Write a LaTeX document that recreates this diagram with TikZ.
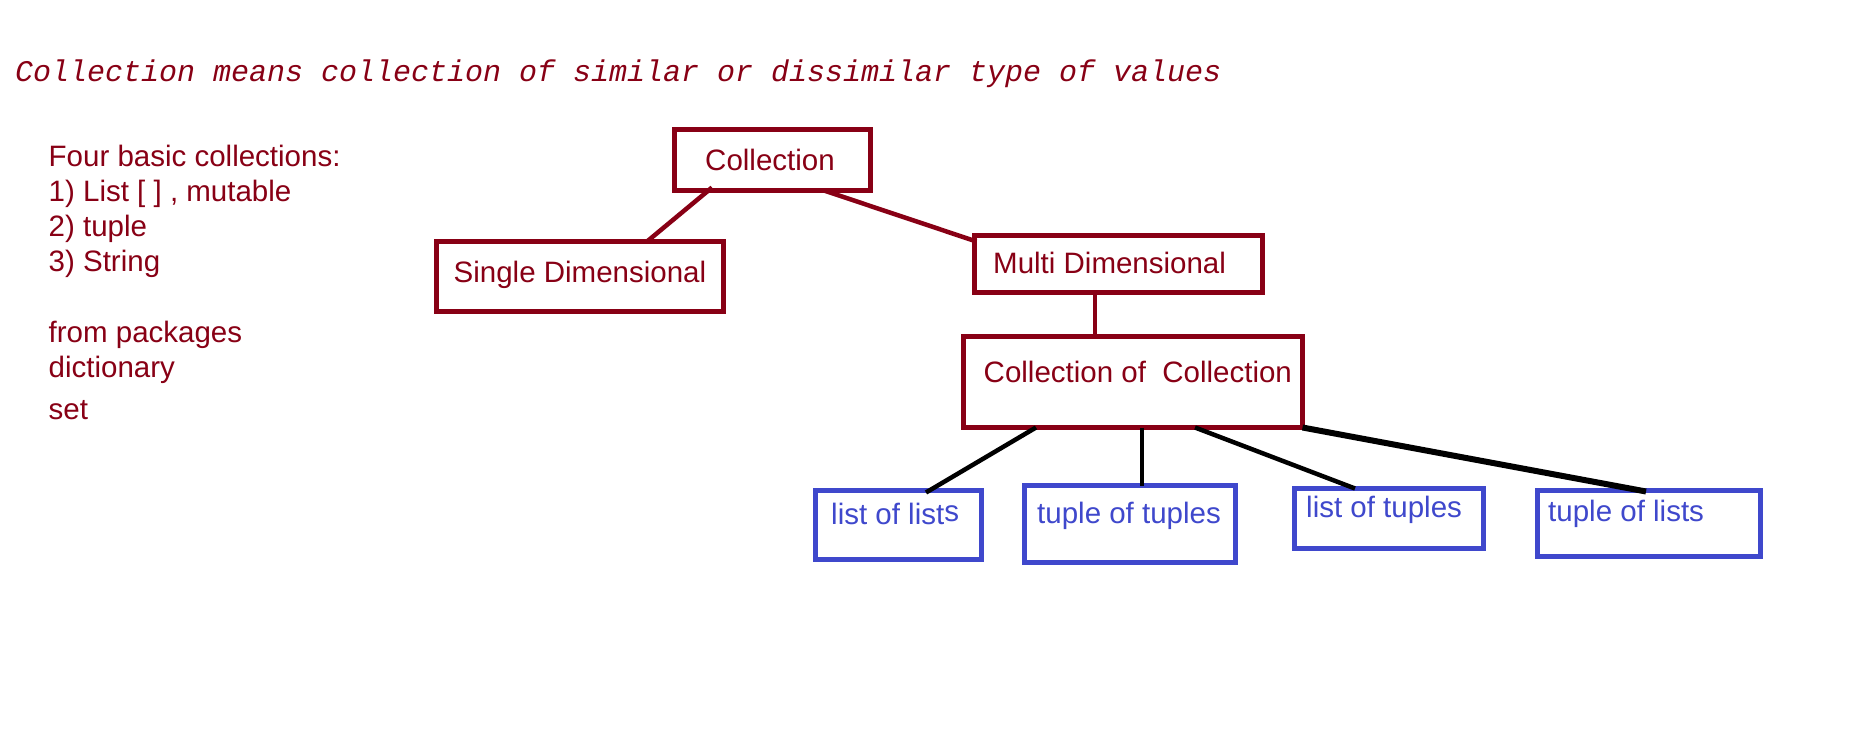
\documentclass[tikz,border=0pt]{standalone}
\usepackage{fontspec}
\setmainfont{Liberation Sans}
\newfontfamily\hdrfont{Liberation Mono}
\usetikzlibrary{calc}
\definecolor{dred}{RGB}{136,0,21}
\definecolor{pblue}{RGB}{63,72,204}
\begin{document}
\begin{tikzpicture}[x=1pt,y=-1pt,
  redbox/.style={draw=dred,line width=5pt,rectangle,inner sep=0pt,outer sep=0pt},
  bluebox/.style={draw=pblue,line width=5pt,rectangle,inner sep=0pt,outer sep=0pt},
  boxtext/.style={anchor=base west,inner sep=0pt,font=\fontsize{29.5}{35}\selectfont},
  redtext/.style={boxtext,text=dred},
  bluetext/.style={boxtext,text=pblue},
  redline/.style={draw=dred,line width=4.5pt},
  blackline/.style={draw=black,line width=4.5pt}]
\useasboundingbox[fill=white] (0,0) rectangle (1852,743);
% header
\node[anchor=base west,inner sep=0pt,text=dred,font=\hdrfont\itshape\fontsize{30}{36}\selectfont] (hdr) at (15,81.7) {Collection means collection of similar or dissimilar type of values};
% left list
\node[redtext] (l1) at (48.5,167) {Four basic collections:};
\node[redtext] (l2) at (48.5,202) {1) List [ ] , mutable};
\node[redtext] (l3) at (48.5,237) {2) tuple};
\node[redtext] (l4) at (48.5,272) {3) String};
\node[redtext] (l5) at (48.5,342) {from packages};
\node[redtext] (l6) at (48.5,377) {dictionary};
\node[redtext] (l7) at (48.5,419) {set};
% boxes
\node[redbox,minimum width=196pt,minimum height=61pt] (coll) at (772.5,160) {};
\node[redbox,minimum width=287pt,minimum height=70pt] (single) at (580,276.5) {};
\node[redbox,minimum width=288pt,minimum height=57pt] (multi) at (1118.5,264) {};
\node[redbox,minimum width=339pt,minimum height=91pt] (coc) at (1133,382) {};
\node[bluebox,minimum width=166pt,minimum height=69pt] (lol) at (898.5,525) {};
\node[bluebox,minimum width=211pt,minimum height=77pt] (tot) at (1130,524) {};
\node[bluebox,minimum width=189pt,minimum height=60pt] (lot) at (1389,518.5) {};
\node[bluebox,minimum width=223pt,minimum height=66pt] (tol) at (1649,523.5) {};
% box labels
\node[redtext] (tcoll) at (705,171) {Collection};
\node[redtext] (tsingle) at (453.5,283) {Single Dimensional};
\node[redtext] (tmulti) at (993,273) {Multi Dimensional};
\node[redtext] (tcoc) at (983.5,382) {Collection of\ \ Collection};
\node[bluetext] (tlol) at (831,524) {list of list\raisebox{2.5pt}{s}};
\node[bluetext] (ttot) at (1037,523) {tuple of tuples};
\node[bluetext] (tlot) at (1306,517) {list of tuples};
\node[bluetext] (ttol) at (1548,521) {tuple of lists};
% connectors
\draw[redline] ($(coll.south west)+(37.5,-3)$) -- ($(single.north west)+(210.5,0)$);
\draw[redline] ($(coll.south west)+(149.5,0)$) -- ($(multi.north west)+(2,6)$);
\draw[redline] ($(multi.south)+(-23.5,0)$) -- ($(coc.north)+(-38,0)$);
\draw[blackline] ($(coc.south)+(-97,0)$) -- ($(lol.north)+(27.5,2)$);
\draw[blackline] ($(coc.south)+(9,0)$) -- ($(tot.north)+(12,0)$);
\draw[blackline] ($(coc.south)+(62,0)$) -- ($(lot.north)+(-34,0)$);
\draw[blackline,line width=6pt] (coc.south east) -- ($(tol.north)+(-3,1)$);
\end{tikzpicture}
\end{document}
